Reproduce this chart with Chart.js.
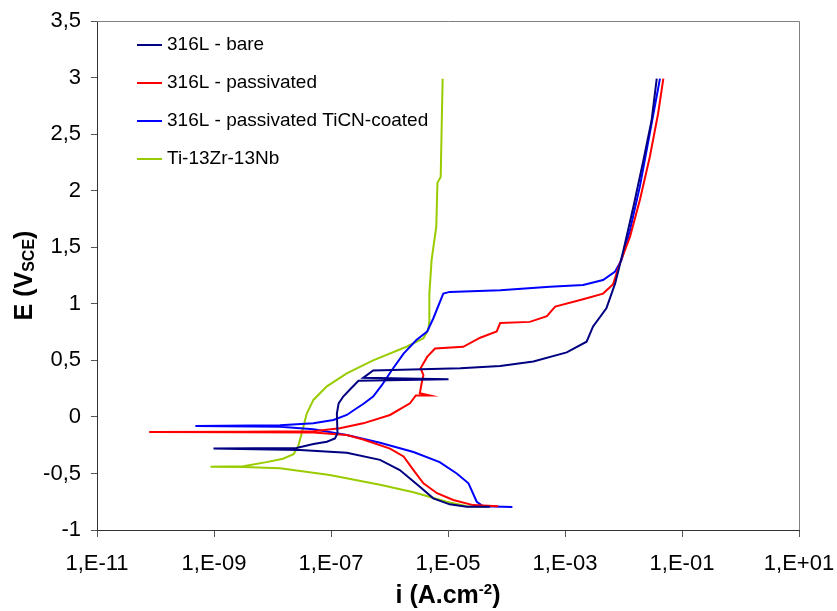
<!DOCTYPE html>
<html>
<head>
<meta charset="utf-8">
<title>Polarization curves</title>
<script src="https://cdn.jsdelivr.net/npm/chart.js@4.4.1/dist/chart.umd.min.js"></script>
<style>
  html, body { margin: 0; padding: 0; background: #fff; }
  #mycanvas { display: block; }
</style>
</head>
<body>
<canvas id="mycanvas" width="837" height="611"></canvas>
<script>
// series: current density i (A/cm2) and potential E (V SCE), cathodic end -> Ecorr -> anodic end
var bareI = [5.2e-5, 2.1e-5, 1.07e-5, 5.6e-6, 3.3e-6, 1.5e-6, 6.9e-7, 1.86e-7, 2.95e-8, 5.0e-9, 9.8e-10,
  5.0e-9, 2.57e-8, 5.0e-8, 8.5e-8, 1.17e-7, 1.29e-7, 1.26e-7, 1.35e-7, 1.62e-7, 2.09e-7, 2.95e-7,
  1.02e-5, 3.55e-7, 5.25e-7, 1.62e-5, 7.8e-5, 2.88e-4, 1.07e-3, 2.34e-3, 3.02e-3, 5.1e-3, 7.2e-3,
  1.0e-2, 1.48e-2, 2.19e-2, 3.02e-2, 3.7e-2];
var bareE = [-0.795, -0.794, -0.773, -0.72, -0.617, -0.47, -0.38, -0.317, -0.293, -0.285, -0.28,
  -0.278, -0.275, -0.24, -0.22, -0.19, -0.145, 0.03, 0.12, 0.18, 0.24, 0.32,
  0.333, 0.345, 0.41, 0.43, 0.45, 0.49, 0.57, 0.665, 0.80, 0.96, 1.18,
  1.475, 1.86, 2.27, 2.62, 2.99];

var passI = [7.2e-5, 2.69e-5, 1.23e-5, 6.5e-6, 3.8e-6, 2.57e-6, 1.74e-6, 1.02e-6, 3.55e-7, 1.86e-7, 5.0e-8, 3.16e-9, 7.8e-11,
  3.16e-9, 5.0e-8, 1.41e-7, 3.55e-7, 1.02e-6, 2.24e-6, 2.82e-6, 4.9e-6, 3.3e-6, 3.55e-6, 3.8e-6, 3.4e-6,
  4.4e-6, 6.0e-6, 1.82e-5, 3.55e-5, 6.8e-5, 7.8e-5, 2.51e-4, 4.9e-4, 6.8e-4, 2.04e-3, 4.47e-3, 6.6e-3,
  8.7e-3, 1.29e-2, 1.91e-2, 2.82e-2, 3.9e-2, 4.8e-2];
var passE = [-0.79, -0.78, -0.735, -0.675, -0.587, -0.47, -0.35, -0.28, -0.20, -0.16, -0.137, -0.135, -0.133,
  -0.131, -0.128, -0.10, -0.057, 0.017, 0.12, 0.19, 0.19, 0.21, 0.30, 0.37, 0.43,
  0.53, 0.605, 0.62, 0.70, 0.755, 0.83, 0.84, 0.89, 0.975, 1.04, 1.09, 1.17,
  1.36, 1.59, 1.92, 2.30, 2.68, 2.99];

var coatI = [1.26e-4, 3.98e-5, 3.1e-5, 2.24e-5, 1.41e-5, 7.2e-6, 2.57e-6, 6.9e-7, 1.86e-7, 5.0e-8, 1.35e-8, 4.8e-10,
  1.35e-8, 5.0e-8, 1.1e-7, 1.86e-7, 2.75e-7, 3.55e-7, 5.25e-7, 7.4e-7, 1.1e-6, 1.74e-6, 2.88e-6, 4.4e-6,
  5.6e-6, 8.3e-6, 1.07e-5, 7.8e-5, 5.5e-4, 2.04e-3, 4.47e-3, 7.2e-3, 9.3e-3, 1.29e-2, 1.91e-2, 2.82e-2, 4.2e-2];
var coatE = [-0.797, -0.79, -0.75, -0.587, -0.50, -0.40, -0.31, -0.228, -0.16, -0.11, -0.087, -0.08,
  -0.075, -0.057, -0.027, 0.017, 0.076, 0.114, 0.18, 0.28, 0.415, 0.56, 0.68, 0.755,
  0.87, 1.09, 1.105, 1.12, 1.15, 1.166, 1.21, 1.285, 1.39, 1.65, 2.04, 2.51, 2.99];

var tiI = [4.6e-5, 2.1e-5, 9.5e-6, 2.57e-6, 6.9e-7, 9.5e-8, 1.35e-8, 3.16e-9, 8.7e-10,
  3.16e-9, 7.9e-9, 1.51e-8, 2.29e-8, 2.75e-8, 3.16e-8, 3.85e-8, 5.0e-8, 8.5e-8, 1.86e-7, 5.25e-7,
  1.95e-6, 3.8e-6, 4.6e-6, 4.8e-6, 4.8e-6, 5.25e-6, 6.3e-6, 6.6e-6, 7.5e-6, 7.8e-6, 8.1e-6];
var tiE = [-0.794, -0.79, -0.75, -0.667, -0.60, -0.514, -0.455, -0.442, -0.44,
  -0.437, -0.40, -0.37, -0.33, -0.26, -0.145, 0.03, 0.15, 0.27, 0.385, 0.50,
  0.62, 0.695, 0.77, 0.85, 1.09, 1.39, 1.68, 2.07, 2.12, 2.57, 2.99];

var seriesNames = ['316L - bare', '316L - passivated', '316L - passivated TiCN-coated', 'Ti-13Zr-13Nb'];
var seriesColors = ['#000080', '#FF0000', '#0000FF', '#99CC00'];

var xTickValues = [1e-11, 1e-9, 1e-7, 1e-5, 1e-3, 1e-1, 1e1];
var xTickLabels = ['1,E-11', '1,E-09', '1,E-07', '1,E-05', '1,E-03', '1,E-01', '1,E+01'];

function pairs(xs, ys) {
  return xs.map(function(v, k) { return {x: v, y: ys[k]}; });
}

var FONT = "'Liberation Sans', Arial, sans-serif";
Chart.defaults.font.family = FONT;
Chart.defaults.color = '#000';

// legend inside the plot + axis titles with sub/superscripts
var extras = {
  id: 'extras',
  afterDraw: function(chart) {
    var ctx = chart.ctx, a = chart.chartArea;
    ctx.save();

    // top / right frame
    ctx.strokeStyle = '#808080';
    ctx.lineWidth = 1;
    ctx.beginPath();
    ctx.moveTo(a.left, a.top + 0.5);
    ctx.lineTo(a.right + 0.5, a.top + 0.5);
    ctx.lineTo(a.right + 0.5, a.bottom);
    ctx.stroke();

    // legend
    ctx.font = '19px ' + FONT;
    ctx.textBaseline = 'middle';
    ctx.textAlign = 'left';
    chart.data.datasets.forEach(function(ds, k) {
      var y = a.top + 24 + k * 38;
      ctx.strokeStyle = ds.borderColor;
      ctx.lineWidth = 2;
      ctx.beginPath();
      ctx.moveTo(a.left + 40, y);
      ctx.lineTo(a.left + 65, y);
      ctx.stroke();
      ctx.fillStyle = '#000';
      ctx.fillText(ds.label, a.left + 70, y);
    });

    // x title: i (A.cm^-2)
    ctx.textBaseline = 'alphabetic';
    var big = 'bold 25px ' + FONT, small = 'bold 15px ' + FONT;
    var p1 = 'i (A.cm', p2 = '-2', p3 = ')';
    ctx.font = big; var w1 = ctx.measureText(p1).width, w3 = ctx.measureText(p3).width;
    ctx.font = small; var w2 = ctx.measureText(p2).width;
    var x0 = (a.left + a.right) / 2 - (w1 + w2 + w3) / 2, by = 603;
    ctx.font = big; ctx.fillText(p1, x0, by);
    ctx.font = small; ctx.fillText(p2, x0 + w1, by - 9);
    ctx.font = big; ctx.fillText(p3, x0 + w1 + w2, by);

    // y title: E (V_SCE)
    var q1 = 'E (V', q2 = 'SCE', q3 = ')';
    var smallY = 'bold 16px ' + FONT;
    ctx.font = big; var v1 = ctx.measureText(q1).width, v3 = ctx.measureText(q3).width;
    ctx.font = smallY; var v2 = ctx.measureText(q2).width;
    ctx.translate(32, (a.top + a.bottom) / 2);
    ctx.rotate(-Math.PI / 2);
    var s0 = -(v1 + v2 + v3) / 2;
    ctx.font = big; ctx.fillText(q1, s0, 0);
    ctx.font = smallY; ctx.fillText(q2, s0 + v1, 2);
    ctx.font = big; ctx.fillText(q3, s0 + v1 + v2, 0);

    ctx.restore();
  }
};

var allI = [bareI, passI, coatI, tiI];
var allE = [bareE, passE, coatE, tiE];

var chartdata = {
  datasets: seriesNames.map(function(name, k) {
    return {
      label: name,
      data: pairs(allI[k], allE[k]),
      borderColor: seriesColors[k],
      backgroundColor: seriesColors[k],
      borderWidth: 2,
      fill: false,
      tension: 0,
      pointRadius: 0
    };
  })
};

var ctx = document.getElementById('mycanvas');

var LineGraph = new Chart(ctx, {
  type: 'line',
  data: chartdata,
  plugins: [extras],
  options: {
    responsive: false,
    animation: false,
    devicePixelRatio: 1,
    layout: { padding: { top: 21, right: 38, left: 0, bottom: 0 } },
    plugins: {
      legend: { display: false },
      tooltip: { enabled: false }
    },
    scales: {
      x: {
        type: 'logarithmic',
        min: 1e-11,
        max: 1e1,
        afterBuildTicks: function(scale) {
          scale.ticks = xTickValues.map(function(v) { return {value: v}; });
        },
        afterFit: function(scale) {
          scale.height = 81;
          scale.paddingLeft = 0;
          scale.paddingRight = 0;
        },
        ticks: {
          autoSkip: false,
          maxRotation: 0,
          padding: 14,
          font: { size: 22 },
          callback: function(val, idx) { return xTickLabels[idx]; }
        },
        grid: { drawOnChartArea: false, drawTicks: true, tickLength: 7, color: '#555' },
        border: { display: true, color: '#333', width: 1 }
      },
      y: {
        min: -1,
        max: 3.5,
        afterFit: function(scale) {
          scale.width = 97;
          scale.paddingTop = 0;
          scale.paddingBottom = 0;
        },
        ticks: {
          stepSize: 0.5,
          padding: 10,
          font: { size: 22 },
          callback: function(v) { return String(v).replace('.', ','); }
        },
        grid: { drawOnChartArea: false, drawTicks: true, tickLength: 6, color: '#555' },
        border: { display: true, color: '#333', width: 1 }
      }
    }
  }
});
</script>
</body>
</html>
